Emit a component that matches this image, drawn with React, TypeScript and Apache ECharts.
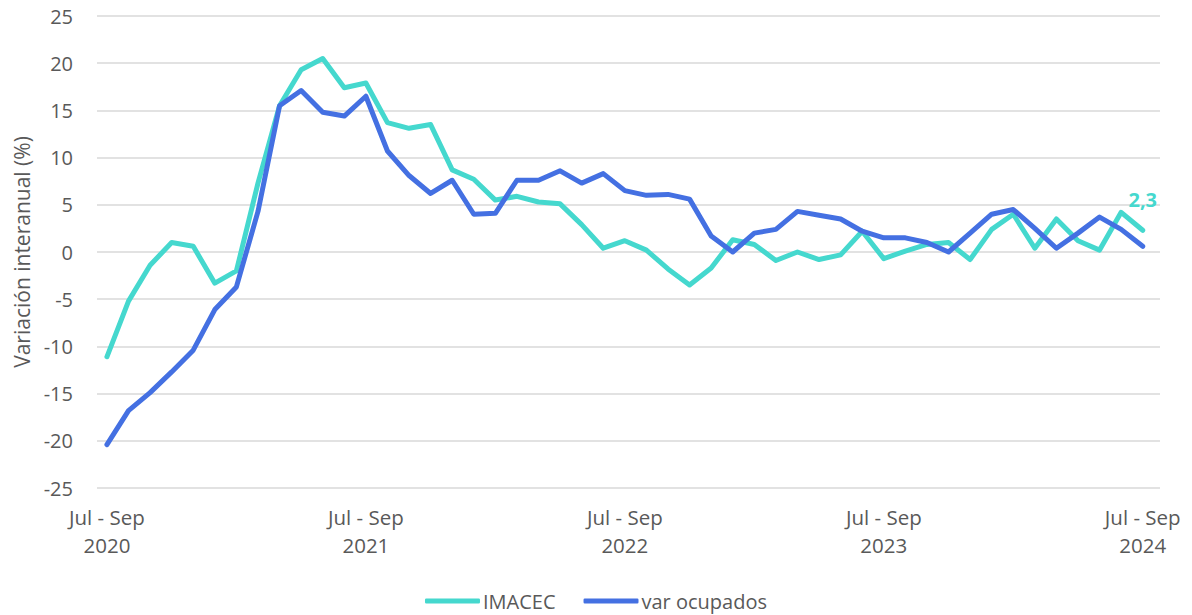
import React, { useEffect, useRef } from "react";
import * as echarts from "echarts";

const imacec: number[] = [
  -11.1, -5.2, -1.4, 1.0, 0.6, -3.3, -2.0, 7.3, 15.5, 19.3, 20.5, 17.4, 17.9,
  13.7, 13.1, 13.5, 8.7, 7.7, 5.5, 5.9, 5.3, 5.1, 2.9, 0.4, 1.2, 0.2, -1.8,
  -3.5, -1.7, 1.3, 0.8, -0.9, 0.0, -0.8, -0.3, 2.2, -0.7, 0.1, 0.8, 1.0, -0.8,
  2.4, 4.0, 0.4, 3.5, 1.2, 0.2, 4.2, 2.3,
];

const varOcupados: number[] = [
  -20.4, -16.8, -14.9, -12.7, -10.4, -6.1, -3.7, 4.3, 15.5, 17.1, 14.8, 14.4,
  16.5, 10.7, 8.1, 6.2, 7.6, 4.0, 4.1, 7.6, 7.6, 8.6, 7.3, 8.3, 6.5, 6.0, 6.1,
  5.6, 1.7, 0.0, 2.0, 2.4, 4.3, 3.9, 3.5, 2.2, 1.5, 1.5, 1.0, 0.0, 2.0, 4.0,
  4.5, 2.5, 0.4, 2.0, 3.7, 2.4, 0.6,
];

const tickIndices: number[] = [0, 12, 24, 36, 48];
const tickLabels: string[] = [
  "Jul - Sep\n2020",
  "Jul - Sep\n2021",
  "Jul - Sep\n2022",
  "Jul - Sep\n2023",
  "Jul - Sep\n2024",
];

const lastLabel = "2,3";
const seriesNames = ["IMACEC", "var ocupados"];
const yAxisTitle = "Variación interanual (%)";

const CYAN = "#45D8CE";
const BLUE = "#4470E2";
const TEXT = "#595959";
const FONT = "'Open Sans', 'Noto Sans', sans-serif";

export default function App() {
  const ref = useRef<HTMLDivElement>(null);

  useEffect(() => {
    document.body.style.margin = "0";
    if (!ref.current) return;
    const chart = echarts.init(ref.current, undefined, { renderer: "svg" });
    const toPairs = (arr: number[]) => arr.map((v, i) => [i, v]);
    const lastIdx = imacec.length - 1;

    chart.setOption({
      animation: false,
      textStyle: { fontFamily: FONT },
      grid: {
        left: 97,
        right: 32,
        top: 16,
        bottom: 127,
        containLabel: false,
        outerBoundsMode: "none",
      },
      legend: {
        bottom: -1,
        left: "center",
        itemWidth: 55,
        itemHeight: 5,
        itemGap: 28,
        icon: "roundRect",
        textStyle: { color: TEXT, fontSize: 20, fontFamily: FONT, padding: [0, 0, 0, -2] },
        data: seriesNames,
      },
      xAxis: {
        type: "value",
        min: -0.46,
        max: 48.8,
        axisLine: { show: false },
        axisTick: { show: false },
        splitLine: { show: false },
        axisLabel: {
          customValues: tickIndices,
          color: TEXT,
          fontSize: 20.5,
          fontFamily: FONT,
          lineHeight: 28,
          margin: 15,
          formatter: (v: number) => {
            const k = tickIndices.indexOf(Math.round(v));
            return k >= 0 ? tickLabels[k] : "";
          },
        },
      },
      yAxis: {
        type: "value",
        min: -25,
        max: 25,
        interval: 5,
        name: yAxisTitle,
        nameLocation: "middle",
        nameGap: 64,
        nameTextStyle: { color: TEXT, fontSize: 21, fontFamily: FONT },
        axisLine: { show: false },
        axisTick: { show: false },
        axisLabel: { color: TEXT, fontSize: 20, fontFamily: FONT, margin: 24 },
        splitLine: { lineStyle: { color: "#D9D9D9", width: 1.5 } },
      },
      series: [
        {
          name: seriesNames[0],
          type: "line",
          data: toPairs(imacec),
          showSymbol: false,
          symbol: "none",
          color: CYAN,
          lineStyle: { color: CYAN, width: 5, join: "round", cap: "round" },
          z: 2,
          markPoint: {
            symbol: "circle",
            symbolSize: 2,
            itemStyle: { color: "rgba(0,0,0,0)" },
            label: {
              show: true,
              position: "top",
              distance: 20,
              formatter: lastLabel,
              color: CYAN,
              fontWeight: "bold",
              fontSize: 20,
              fontFamily: FONT,
            },
            data: [{ coord: [lastIdx, imacec[lastIdx]], value: imacec[lastIdx] }],
          },
        },
        {
          name: seriesNames[1],
          type: "line",
          data: toPairs(varOcupados),
          showSymbol: false,
          symbol: "none",
          color: BLUE,
          lineStyle: { color: BLUE, width: 5, join: "round", cap: "round" },
          z: 3,
        },
      ],
    });
    return () => chart.dispose();
  }, []);

  return <div ref={ref} style={{ width: 1192, height: 615 }} />;
}
